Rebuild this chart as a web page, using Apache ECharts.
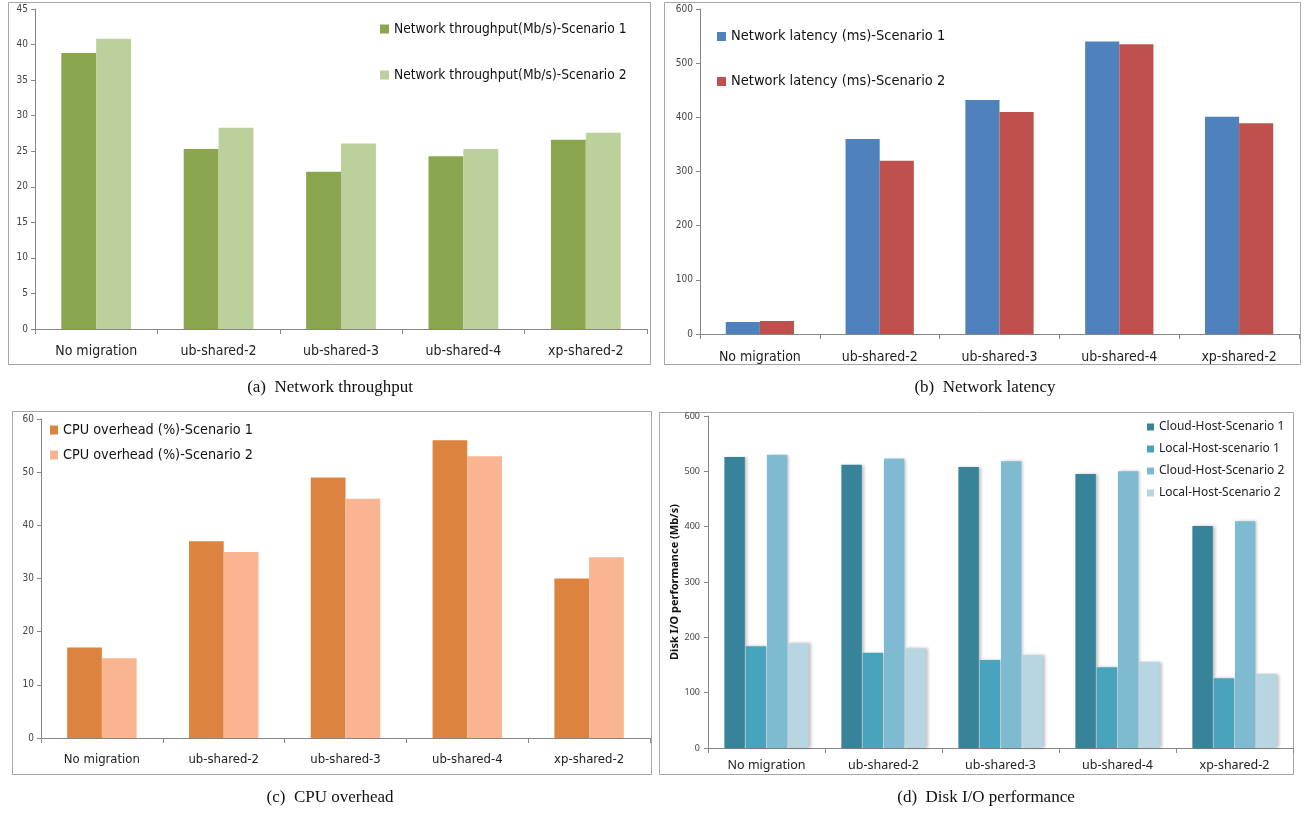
<!DOCTYPE html>
<html><head><meta charset="utf-8">
<script src="https://cdn.jsdelivr.net/npm/echarts@6/dist/echarts.min.js"></script>
<style>html,body{margin:0;padding:0;background:#fff}#c{width:1305px;height:813px}</style>
</head><body><div id="c"></div>
<script>
const categories = ['No migration','ub-shared-2','ub-shared-3','ub-shared-4','xp-shared-2'];
const thrS1 = [38.8, 25.3, 22.1, 24.3, 26.6];
const thrS2 = [40.8, 28.3, 26.1, 25.3, 27.6];
const latS1 = [22, 360, 432, 540, 401];
const latS2 = [24, 320, 410, 535, 389];
const cpuS1 = [17, 37, 49, 56, 30];
const cpuS2 = [15, 35, 45, 53, 34];
const cloudS1 = [526, 512, 508, 495, 401];
const localS1 = [184, 172, 159, 146, 126];
const cloudS2 = [530, 523, 518, 500, 410];
const localS2 = [189, 180, 168, 156, 134];
const captions = ['(a)  Network throughput','(b)  Network latency','(c)  CPU overhead','(d)  Disk I/O performance'];

const NARROW = '"Liberation Sans Narrow","DejaVu Sans Condensed",sans-serif';
const AX = '#868686';
const chart = echarts.init(document.getElementById('c'));

function xAxis(i, size, margin, family){
  return {type:'category', gridIndex:i, data:categories,
    axisLine:{lineStyle:{color:AX}}, axisTick:{show:true,length:5,lineStyle:{color:AX}},
    axisLabel:{fontSize:size, margin:margin, color:'#222', fontFamily:family}};
}
function yAxis(i, max, interval, extra){
  return Object.assign({type:'value', gridIndex:i, min:0, max:max, interval:interval,
    splitLine:{show:false}, axisLine:{show:true,lineStyle:{color:AX}},
    axisTick:{show:true,length:4,lineStyle:{color:AX}},
    axisLabel:{fontSize:10, color:'#444', margin:7, fontFamily:NARROW}}, extra||{});
}
function bar(name, data, i, color, gap, extra){
  return Object.assign({type:'bar', name:name, data:data, xAxisIndex:i, yAxisIndex:i,
    barGap:'0%', barCategoryGap:gap, itemStyle:{color:color}, animation:false}, extra||{});
}
const shadow = {shadowColor:'rgba(0,0,0,0.25)', shadowBlur:3, shadowOffsetX:2, shadowOffsetY:0};

const n1 = ['Network throughput(Mb/s)-Scenario 1','Network throughput(Mb/s)-Scenario 2'];
const n2 = ['Network latency (ms)-Scenario 1','Network latency (ms)-Scenario 2'];
const n3 = ['CPU overhead (%)-Scenario 1','CPU overhead (%)-Scenario 2'];
const n4 = ['Cloud-Host-Scenario 1','Local-Host-scenario 1','Cloud-Host-Scenario 2','Local-Host-Scenario 2'];
const dcol = ['#37849A','#48A3BC','#7FBBD0','#B8D6E2'];

function box(x,y,w,h){return {type:'rect', shape:{x:x+0.5,y:y+0.5,width:w,height:h}, style:{fill:null, stroke:'#a6a6a6', lineWidth:1}, silent:true};}
function cap(x,y,t){return {type:'text', x:x, y:y, style:{text:t, font:'17px "Liberation Serif","Times New Roman",serif', fill:'#111', textAlign:'center', textVerticalAlign:'middle'}};}

chart.setOption({
  animation:false,
  grid:[
    {left:35, top:9, width:612, height:320},
    {left:700, top:9, width:599, height:325},
    {left:41, top:419, width:609, height:319},
    {left:708, top:416, width:585, height:332}
  ],
  xAxis:[xAxis(0,14,15,NARROW), xAxis(1,14,16,NARROW), xAxis(2,13,15,NARROW), xAxis(3,12.5,11,'"Noto Sans",sans-serif')],
  yAxis:[yAxis(0,45,5), yAxis(1,600,100), yAxis(2,60,10),
    yAxis(3,600,100,{name:'Disk I/O performance (Mb/s)', nameLocation:'middle', nameGap:28,
      nameTextStyle:{fontSize:11, fontWeight:'bold', color:'#111', fontFamily:'"Noto Sans",sans-serif'},
      axisLabel:{fontSize:9, color:'#444', margin:8, fontFamily:'"Noto Sans",sans-serif'}})],
  legend:[
    {data:n1, orient:'vertical', left:375, top:17, itemWidth:9, itemHeight:9, itemGap:32, icon:'rect',
      textStyle:{fontSize:13.7, color:'#111', fontFamily:NARROW}},
    {data:n2, orient:'vertical', left:712, top:24, itemWidth:9, itemHeight:9, itemGap:30, icon:'rect',
      textStyle:{fontSize:14.5, color:'#111', fontFamily:NARROW}},
    {data:n3, orient:'vertical', left:45, top:418, itemWidth:8, itemHeight:9, itemGap:11, icon:'rect',
      textStyle:{fontSize:14.3, color:'#111', fontFamily:NARROW}},
    {data:n4, orient:'vertical', left:1142, top:416, itemWidth:7, itemHeight:7, itemGap:10, icon:'rect',
      textStyle:{fontSize:12, color:'#222', fontFamily:'"Noto Sans",sans-serif'}}
  ],
  series:[
    bar(n1[0], thrS1, 0, '#8AA64F', '43%'),
    bar(n1[1], thrS2, 0, '#BBD09A', '43%'),
    bar(n2[0], latS1, 1, '#4F81BD', '43%'),
    bar(n2[1], latS2, 1, '#C0504D', '43%'),
    bar(n3[0], cpuS1, 2, '#DC843F', '43%'),
    bar(n3[1], cpuS2, 2, '#F9B592', '43%'),
    bar(n4[0], cloudS1, 3, dcol[0], '28%', {barGap:'4%', itemStyle:Object.assign({color:dcol[0]}, shadow)}),
    bar(n4[1], localS1, 3, dcol[1], '28%', {barGap:'4%', itemStyle:Object.assign({color:dcol[1]}, shadow)}),
    bar(n4[2], cloudS2, 3, dcol[2], '28%', {barGap:'4%', itemStyle:Object.assign({color:dcol[2]}, shadow)}),
    bar(n4[3], localS2, 3, dcol[3], '28%', {barGap:'4%', itemStyle:Object.assign({color:dcol[3]}, shadow)})
  ],
  graphic:[
    box(8,2,642,362), box(664,2,636,362), box(12,411,639,363), box(659,412,634,362),
    cap(330,388,captions[0]), cap(985,388,captions[1]), cap(330,798,captions[2]), cap(986,798,captions[3])
  ]
});
</script></body></html>
